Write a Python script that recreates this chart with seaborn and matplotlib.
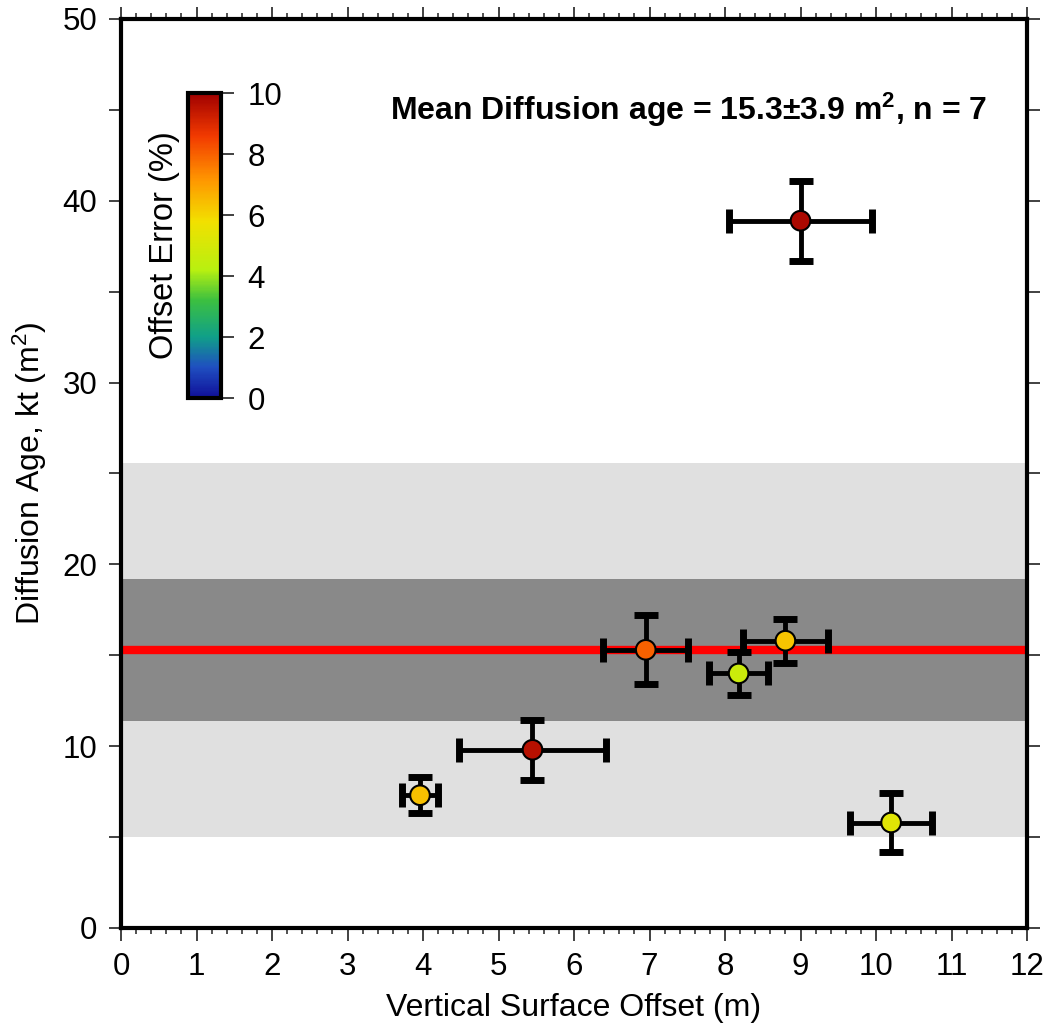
import numpy as np
import pandas as pd
import matplotlib
matplotlib.use("Agg")
import matplotlib.pyplot as plt
from matplotlib.colors import LinearSegmentedColormap, Normalize
from matplotlib.ticker import MultipleLocator
import seaborn as sns

# ---- data ----
offset = [3.96, 5.45, 6.95, 8.18, 8.80, 10.20, 9.00]
offset_err = [0.24, 0.97, 0.56, 0.39, 0.56, 0.54, 0.95]
age = [7.3, 9.8, 15.3, 14.0, 15.8, 5.8, 38.9]
age_err = [1.0, 1.65, 1.9, 1.2, 1.2, 1.6, 2.2]
pct_error = [6.4, 9.6, 8.0, 4.7, 6.3, 5.3, 9.8]

mean_age = 15.3
sd_age = 3.9
outer_band = [5.0, 25.6]
inner_band = [mean_age - sd_age, mean_age + sd_age]

cbar_ticks = [0, 2, 4, 6, 8, 10]
x_ticks = list(range(0, 13))
y_ticks = [0, 10, 20, 30, 40, 50]

df = pd.DataFrame({"offset": offset, "age": age, "pct": pct_error})

sns.set_theme(style="ticks")
plt.rcParams["font.family"] = ["Liberation Sans", "DejaVu Sans"]
plt.rcParams["mathtext.fontset"] = "custom"
plt.rcParams["mathtext.rm"] = "Liberation Sans"
plt.rcParams["mathtext.bf"] = "Liberation Sans:bold"
plt.rcParams["mathtext.default"] = "regular"
plt.rcParams["text.color"] = "black"
plt.rcParams["axes.labelcolor"] = "black"
plt.rcParams["xtick.labelcolor"] = "black"
plt.rcParams["ytick.labelcolor"] = "black"

cmap = LinearSegmentedColormap.from_list("offs", [
    (0.00, "#10109a"), (0.10, "#1f4fc0"), (0.20, "#10a088"),
    (0.32, "#3cc040"), (0.42, "#b8f010"), (0.58, "#f2e000"),
    (0.72, "#ff9400"), (0.86, "#f23a00"), (1.00, "#a00000")])
norm = Normalize(0, 10)

fig = plt.figure(figsize=(10.47, 10.29), dpi=100)
ax = fig.add_axes([0.1156, 0.0982, 0.8653, 0.8834])

ax.axhspan(outer_band[0], outer_band[1], color="#e0e0e0", lw=0, zorder=0)
ax.axhspan(inner_band[0], inner_band[1], color="#898989", lw=0, zorder=1)
ax.axhline(mean_age, color="#ff0000", lw=6, zorder=2)

ax.errorbar(offset, age, xerr=offset_err, yerr=age_err, fmt="none",
            ecolor="black", elinewidth=3.5, capsize=8.5, capthick=5, zorder=3)
sns.scatterplot(data=df, x="offset", y="age", hue="pct", palette=cmap,
                hue_norm=norm, s=200, edgecolor="black", linewidth=1.5,
                legend=False, ax=ax, zorder=4)

ax.set_xlim(0, 12)
ax.set_ylim(0, 50)
ax.set_xticks(x_ticks)
ax.set_yticks(y_ticks)
ax.xaxis.set_minor_locator(MultipleLocator(0.2))
ax.yaxis.set_minor_locator(MultipleLocator(5))
ax.tick_params(axis="both", which="both", direction="out", top=True, right=True,
               labeltop=False, labelright=False, labelsize=22.5, color="#333333")
ax.tick_params(axis="both", which="major", length=9, width=1.3, pad=8)
ax.tick_params(axis="x", which="minor", length=4.5, width=1.2)
ax.tick_params(axis="y", which="minor", length=9, width=1.3)
for s in ax.spines.values():
    s.set_linewidth(3)
    s.set_color("black")

ax.set_xlabel("Vertical Surface Offset (m)", fontsize=23, labelpad=8)
ax.set_ylabel("Diffusion Age, kt (m$^2$)", fontsize=23, labelpad=10)

ax.text(11.48, 45.0, r"Mean Diffusion age = 15.3±3.9 m$^\mathbf{2}$, n = 7",
        ha="right", va="center", fontsize=23, fontweight="bold", zorder=5)

# colorbar
cax = fig.add_axes([0.1796, 0.6132, 0.0315, 0.2964])
sm = plt.cm.ScalarMappable(norm=norm, cmap=cmap)
cb = fig.colorbar(sm, cax=cax, ticks=cbar_ticks)
cb.outline.set_linewidth(3)
cb.outline.set_edgecolor("black")
cax.tick_params(labelsize=22.5, length=9, width=1.3, direction="out", pad=10, color="#333333")
cax.yaxis.set_label_position("left")
cax.set_ylabel("Offset Error (%)", fontsize=23.5, labelpad=6)

fig.savefig("out.png", dpi=100)
